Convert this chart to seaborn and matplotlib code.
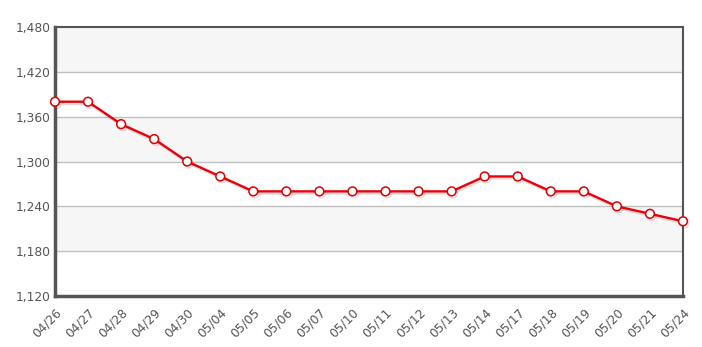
import matplotlib
matplotlib.use("Agg")
import matplotlib.pyplot as plt
import matplotlib.patheffects as pe
import seaborn as sns
import pandas as pd
from matplotlib.ticker import FuncFormatter

dates = ["04/26", "04/27", "04/28", "04/29", "04/30", "05/04", "05/05", "05/06",
         "05/07", "05/10", "05/11", "05/12", "05/13", "05/14", "05/17", "05/18",
         "05/19", "05/20", "05/21", "05/24"]
prices = [1380, 1380, 1350, 1330, 1300, 1280, 1260, 1260, 1260, 1260, 1260,
          1260, 1260, 1280, 1280, 1260, 1260, 1240, 1230, 1220]
y_ticks = [1120, 1180, 1240, 1300, 1360, 1420, 1480]

df = pd.DataFrame({"idx": range(len(dates)), "date": dates, "price": prices})

sns.set_theme(style="white")
plt.rcParams['font.family'] = ['DejaVu Sans']

fig = plt.figure(figsize=(7.02, 3.47), dpi=100)
ax = fig.add_axes([55/702, 1-296/347, (683-55)/702, (296-27)/347])
ax.set_facecolor("white")

# alternating bands
for i in range(len(y_ticks)-1):
    if i % 2 == 1:
        ax.axhspan(y_ticks[i], y_ticks[i+1], color="#f6f6f6", zorder=0, lw=0)
for t in y_ticks[1:-1]:
    ax.axhline(t, color="#c0c0c0", lw=1, zorder=1)

sns.lineplot(data=df, x="idx", y="price", ax=ax, color="#e8000b", lw=1.7,
             marker="o", markersize=6.3, markerfacecolor="white",
             markeredgecolor="#e00000", markeredgewidth=1.1, zorder=5,
             path_effects=[pe.SimpleLineShadow(offset=(1, -1.5), shadow_color="#e00000", alpha=0.15), pe.Normal()],
             clip_on=False)

ax.set_xlim(0, len(dates)-1)
ax.set_ylim(y_ticks[0], y_ticks[-1])
ax.set_yticks(y_ticks)
ax.yaxis.set_major_formatter(FuncFormatter(lambda v, p: f"{int(v):,}"))
ax.set_xticks(range(len(dates)))
ax.set_xticklabels(dates, rotation=45, ha="right", rotation_mode="anchor")
ax.tick_params(axis="both", length=0, labelsize=8.8, labelcolor="#555555", pad=3)
ax.tick_params(axis="x", pad=7)
ax.set_xlabel("")
ax.set_ylabel("")

for side in ["left", "bottom"]:
    ax.spines[side].set_color("#555555")
    ax.spines[side].set_linewidth(2.5)
for side in ["top", "right"]:
    ax.spines[side].set_color("#555555")
    ax.spines[side].set_linewidth(1.5)

fig.savefig("out.png", dpi=100)
